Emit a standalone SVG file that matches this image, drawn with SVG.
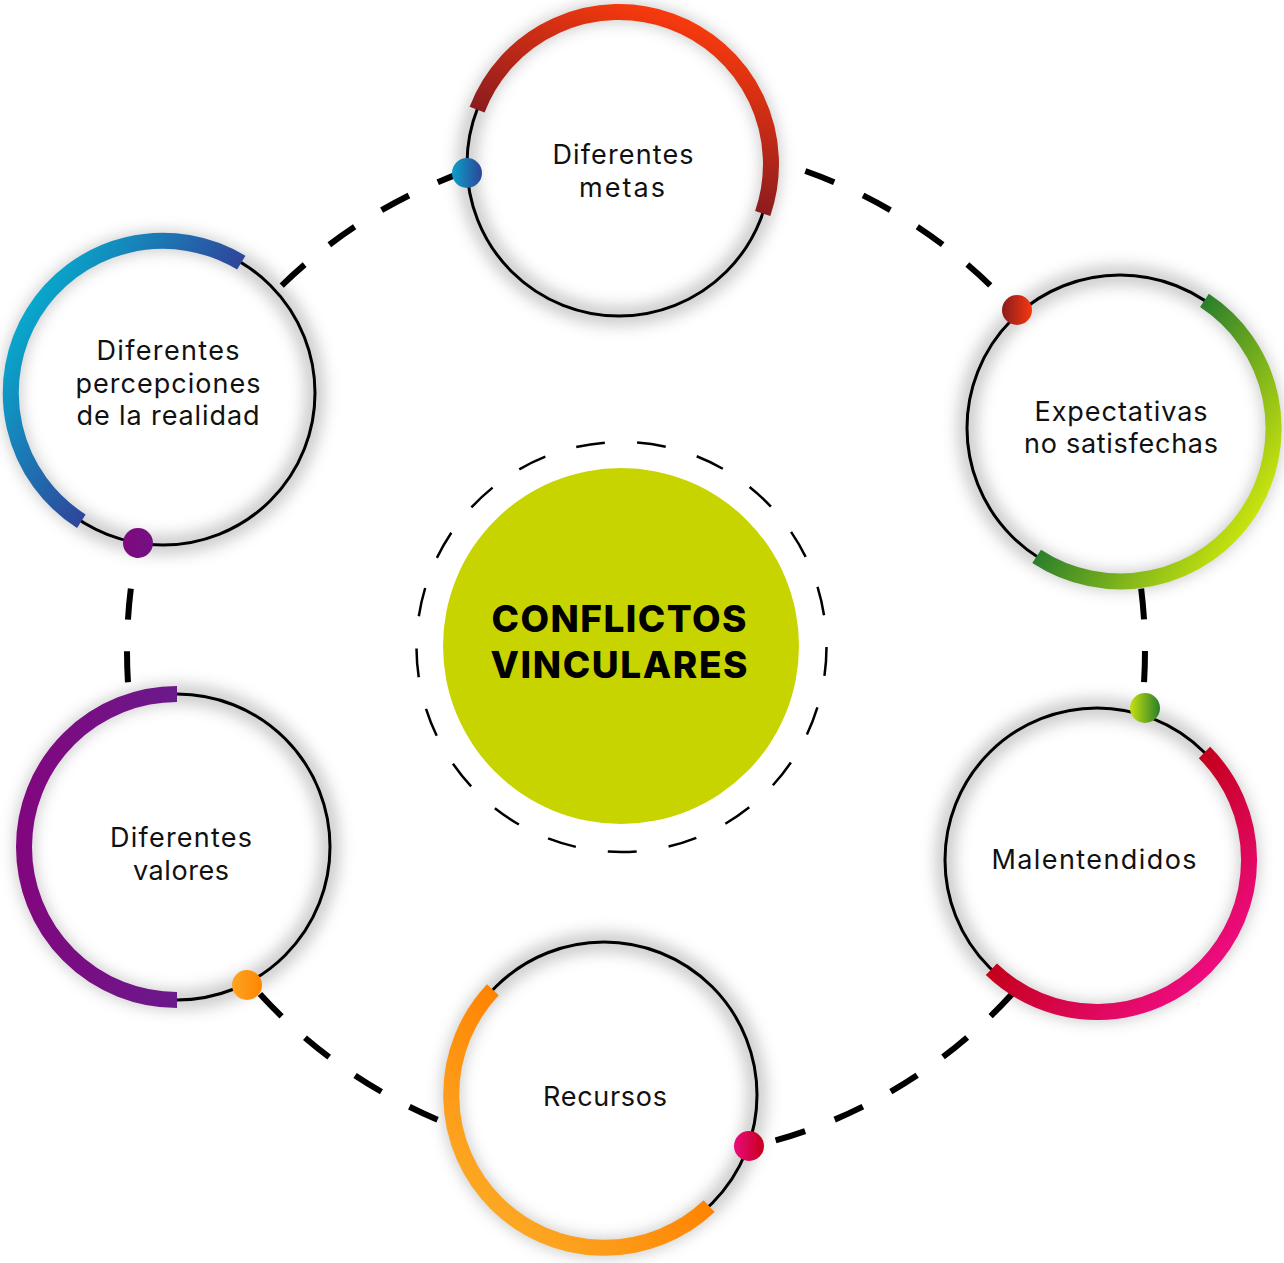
<svg xmlns="http://www.w3.org/2000/svg" width="1284" height="1263" viewBox="0 0 1284 1263">
<style>
.halo{fill:none;stroke:#000;stroke-opacity:0.22;stroke-width:18;filter:url(#blur)}
.disc{fill:#fff}
.ring{fill:none;stroke:#000;stroke-width:3}
.arc{fill:none;stroke-width:16;stroke-linecap:butt}
.lbl{font-family:Inter,"Noto Sans","DejaVu Sans",sans-serif;font-size:27px;fill:#111;text-anchor:middle}
.conn{fill:none;stroke:#000;stroke-width:6;stroke-dasharray:31 31.71}
</style>
<defs>
<filter id="blur" x="-25%" y="-25%" width="150%" height="150%"><feGaussianBlur stdDeviation="8"/></filter>
<linearGradient id="g1" gradientUnits="userSpaceOnUse" x1="619" y1="164" x2="673.7" y2="13.6"><stop offset="0" stop-color="#8A1B1F"/><stop offset="1" stop-color="#F93A0D"/></linearGradient>
<linearGradient id="g2" gradientUnits="userSpaceOnUse" x1="1120" y1="428" x2="1254.6" y2="516.3"><stop offset="0" stop-color="#2A7E2B"/><stop offset="1" stop-color="#C8E30E"/></linearGradient>
<linearGradient id="g3" gradientUnits="userSpaceOnUse" x1="1097" y1="860" x2="1211.8" y2="972.8"><stop offset="0" stop-color="#C3001A"/><stop offset="1" stop-color="#EE0C80"/></linearGradient>
<linearGradient id="g4" gradientUnits="userSpaceOnUse" x1="604" y1="1095" x2="490.2" y2="1208.8"><stop offset="0" stop-color="#FF8200"/><stop offset="1" stop-color="#FCA824"/></linearGradient>
<linearGradient id="g5" gradientUnits="userSpaceOnUse" x1="177" y1="847" x2="16" y2="847"><stop offset="0" stop-color="#6A1A8B"/><stop offset="1" stop-color="#82067E"/></linearGradient>
<linearGradient id="g6" gradientUnits="userSpaceOnUse" x1="163" y1="393" x2="26.1" y2="308.3"><stop offset="0" stop-color="#30449A"/><stop offset="1" stop-color="#08A8CC"/></linearGradient>
<linearGradient id="d6"><stop offset="0" stop-color="#0AA0CA"/><stop offset="1" stop-color="#2F4596"/></linearGradient>
<linearGradient id="d1"><stop offset="0" stop-color="#8B1C1E"/><stop offset="1" stop-color="#F5380E"/></linearGradient>
<linearGradient id="d2"><stop offset="0" stop-color="#C5E010"/><stop offset="1" stop-color="#2A7F2A"/></linearGradient>
<linearGradient id="d3"><stop offset="0" stop-color="#EC0A7C"/><stop offset="1" stop-color="#C4001A"/></linearGradient>
<linearGradient id="d4"><stop offset="0" stop-color="#FCA522"/><stop offset="1" stop-color="#FF8500"/></linearGradient>
<linearGradient id="d5"><stop offset="0" stop-color="#7E0A7F"/><stop offset="1" stop-color="#741083"/></linearGradient>
</defs>

<g id="connectors">
<path class="conn" stroke-dashoffset="28.7" d="M219.05,359.05 A509,509 0 0 1 466.09,171.20"/>
<path class="conn" stroke-dashoffset="41.7" d="M724.39,149.73 A509,509 0 0 1 1015.55,311.74"/>
<path class="conn" stroke-dashoffset="10.4" d="M1114.30,476.91 A509,509 0 0 1 1141.83,707.74"/>
<path class="conn" stroke-dashoffset="15.7" d="M1076.81,905.5 A509,509 0 0 1 749.63,1147.15"/>
<path class="conn" stroke-dashoffset="28.7" d="M591.64,1158.06 A509,509 0 0 1 249.53,982.24"/>
<path class="conn" stroke-dashoffset="41.8" d="M157.70,825.09 A509,509 0 0 1 138.49,543.44"/>
</g>

<g id="center">
<circle cx="621.5" cy="647" r="205" fill="none" stroke="#000" stroke-width="2.5" stroke-dasharray="29 32.33"/>
<circle cx="621" cy="646" r="178" fill="#C8D400"/>
<text x="619" y="632" font-family="Inter,'Noto Sans','DejaVu Sans',sans-serif" font-weight="800" font-size="37" text-anchor="middle" fill="#000" textLength="255">CONFLICTOS</text>
<text x="619" y="678" font-family="Inter,'Noto Sans','DejaVu Sans',sans-serif" font-weight="800" font-size="37" text-anchor="middle" fill="#000" textLength="257">VINCULARES</text>
</g>

<g id="node-metas">
<circle class="disc" cx="619" cy="164" r="152"/>
<circle class="halo" cx="619" cy="164" r="152"/>
<circle class="ring" cx="619" cy="164" r="152"/>
<path class="arc" stroke="url(#g1)" d="M477.10,109.53 A152,152 0 0 1 762.72,213.49"/>
<circle cx="467" cy="173" r="15" fill="url(#d6)"/>
<text class="lbl" x="623" y="164" textLength="141">Diferentes</text>
<text class="lbl" x="622" y="197" textLength="86">metas</text>
</g>

<g id="node-expectativas">
<circle class="disc" cx="1120" cy="428" r="153"/>
<circle class="halo" cx="1120" cy="428" r="153"/>
<circle class="ring" cx="1120" cy="428" r="153"/>
<path class="arc" stroke="url(#g2)" d="M1204.45,300.41 A153,153 0 0 1 1036.67,556.32"/>
<circle cx="1017" cy="310" r="15" fill="url(#d1)"/>
<text class="lbl" x="1121" y="421" textLength="173">Expectativas</text>
<text class="lbl" x="1121" y="453" textLength="194">no satisfechas</text>
</g>

<g id="node-malentendidos">
<circle class="disc" cx="1097" cy="860" r="152"/>
<circle class="halo" cx="1097" cy="860" r="152"/>
<circle class="ring" cx="1097" cy="860" r="152"/>
<path class="arc" stroke="url(#g3)" d="M1204.48,752.52 A152,152 0 0 1 991.41,969.34"/>
<circle cx="1145" cy="708" r="15" fill="url(#d2)"/>
<text class="lbl" x="1094" y="869" textLength="205">Malentendidos</text>
</g>

<g id="node-recursos">
<circle class="disc" cx="604" cy="1095" r="153"/>
<circle class="halo" cx="604" cy="1095" r="153"/>
<circle class="ring" cx="604" cy="1095" r="153"/>
<path class="arc" stroke="url(#g4)" d="M709.15,1206.13 A153,153 0 0 1 492.87,989.85"/>
<circle cx="749" cy="1146" r="15" fill="url(#d3)"/>
<text class="lbl" x="605" y="1106" textLength="124">Recursos</text>
</g>

<g id="node-valores">
<circle class="disc" cx="177" cy="847" r="153"/>
<circle class="halo" cx="177" cy="847" r="153"/>
<circle class="ring" cx="177" cy="847" r="153"/>
<path class="arc" stroke="url(#g5)" d="M177,1000 A153,153 0 0 1 177,694"/>
<circle cx="247" cy="985" r="15" fill="url(#d4)"/>
<text class="lbl" x="181" y="847" textLength="142">Diferentes</text>
<text class="lbl" x="181" y="880" textLength="96">valores</text>
</g>

<g id="node-percepciones">
<circle class="disc" cx="163" cy="393" r="152"/>
<circle class="halo" cx="163" cy="393" r="152"/>
<circle class="ring" cx="163" cy="393" r="152"/>
<path class="arc" stroke="url(#g6)" d="M81.33,521.20 A152,152 0 0 1 241.29,262.71"/>
<circle cx="138" cy="543" r="15" fill="url(#d5)"/>
<text class="lbl" x="168" y="360" textLength="143">Diferentes</text>
<text class="lbl" x="168" y="393" textLength="185">percepciones</text>
<text class="lbl" x="168" y="425" textLength="183">de la realidad</text>
</g>
</svg>
